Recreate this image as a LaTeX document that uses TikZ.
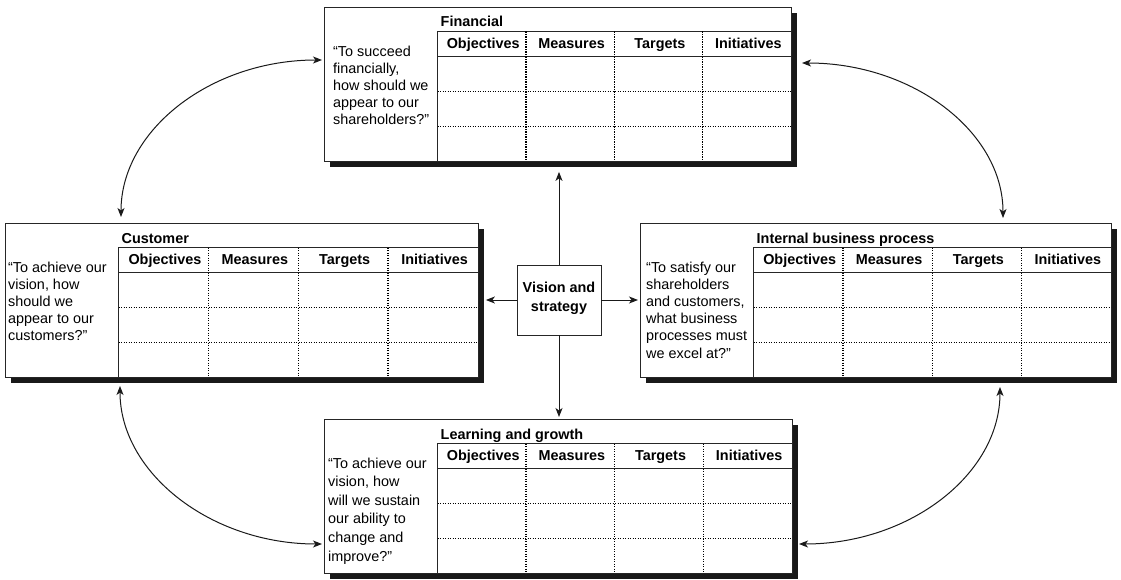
\documentclass[tikz,border=0pt]{standalone}
\usepackage{fontspec}
\setmainfont{Liberation Sans}
\usetikzlibrary{arrows.meta,shadows,calc}

\tikzset{
  bscbox/.style={draw=black!85, line width=0.9pt, fill=white, inner sep=0pt,
    drop shadow={opacity=1, fill=black!90, shadow xshift=6pt, shadow yshift=-6pt}},
  tabrule/.style={draw=black!85, line width=0.9pt},
  dotrule/.style={draw=black, line width=1.3pt, dash pattern=on 1.2pt off 1.3pt},
  colhead/.style={font=\fontsize{14.4}{17}\selectfont\bfseries, inner sep=0pt, anchor=base},
  ptitle/.style={font=\fontsize{14.4}{17}\selectfont\bfseries, inner sep=0pt, anchor=base west},
  qtext/.style={inner sep=0pt, anchor=north west, align=left},
  tipshape/.tip={Stealth[length=9pt,width=7pt,inset=2.5pt]},
  spoke/.style={draw=black!90, line width=1pt, -tipshape},
  twoway/.style={draw=black!90, line width=1pt, tipshape-tipshape},
}

% One perspective panel: #1 name, #2 left, #3 top, #4 width, #5 title,
% #6 indent of the question, #7 its line spacing, #8 the question
\newcommand\bscpanel[8]{%
  \pgfmathsetmacro\bscR{#2+#4}%
  \pgfmathsetmacro\bscB{#3+154}%
  \pgfmathsetmacro\bscTL{#2+113.5}%
  \pgfmathsetmacro\bscHT{#3+24.5}%
  \pgfmathsetmacro\bscHB{#3+49.5}%
  \pgfmathsetmacro\bscCW{(\bscR-\bscTL)/4}%
  \pgfmathsetmacro\bscRH{(\bscB-\bscHB)/3}%
  \node[bscbox, minimum width=#4, minimum height=154, anchor=north west] (#1) at (#2,#3) {};
  \draw[tabrule] (\bscTL,\bscB) -- (\bscTL,\bscHT) -- (\bscR,\bscHT);
  \draw[tabrule] (\bscTL,\bscHB) -- (\bscR,\bscHB);
  \foreach \k in {1,2,3} {
    \draw[dotrule] ({\bscTL+\k*\bscCW},\bscHT) -- ({\bscTL+\k*\bscCW},\bscB);
  }
  \foreach \k in {1,2} {
    \draw[dotrule] (\bscTL,{\bscHB+\k*\bscRH}) -- (\bscR,{\bscHB+\k*\bscRH});
  }
  \foreach \lab [count=\k] in {Objectives,Measures,Targets,Initiatives} {
    \node[colhead] (#1-c\k) at ({\bscTL+(\k-0.5)*\bscCW+1.5},{\bscHT+17.3}) {\lab};
  }
  \node[ptitle] (#1-t) at ({\bscTL+3},{\bscHT-4.5}) {#5};
  \node[qtext, font=\fontsize{14.4}{#7}\selectfont] (#1-q) at ({#2+#6},{#3+38.5}) {#8};
}

\begin{document}
\begin{tikzpicture}[x=1pt, y=-1pt]
  \fill[white] (0,0) rectangle (1121,580);
  \useasboundingbox (0,0) rectangle (1121,580);

  \bscpanel{fin}{324}{7}{467}{Financial}{9}{17}%
    {“To succeed\\financially,\\how should we\\appear to our\\shareholders?”}
  \bscpanel{cust}{5}{223}{473}{Customer}{3}{17}%
    {“To achieve our\\vision, how\\should we\\appear to our\\customers?”}
  \bscpanel{int}{640}{223}{471}{Internal business process}{6}{17.2}%
    {“To satisfy our\\shareholders\\and customers,\\what business\\processes must\\we excel at?”}
  \bscpanel{learn}{324}{419}{468}{Learning and growth}{4}{18.6}%
    {“To achieve our\\vision, how\\will we sustain\\our ability to\\change and\\improve?”}

  % centre box
  \node[draw=black!85, line width=0.9pt, fill=white, minimum width=84, minimum height=70,
        align=center, inner sep=0pt, text depth=6pt, font=\fontsize{14.4}{18.5}\selectfont\bfseries]
        (vis) at (559,300) {Vision and\\strategy};

  % straight links from the centre
  \draw[spoke, shorten >=10pt] (vis.north) -- (vis.north |- fin.south);
  \draw[spoke, shorten >=2pt]  (vis.south) -- (vis.south |- learn.north);
  \draw[spoke, shorten >=7pt]  (vis.west)  -- (vis.west -| cust.east);
  \draw[spoke, shorten >=2pt]  (vis.east)  -- (vis.east -| int.west);

  % ends of the curved two-way links
  \coordinate (finL) at (322,60);
  \coordinate (finR) at (802,63);
  \coordinate (custT) at (121,217);
  \coordinate (custB) at (120,386);
  \coordinate (intT) at (1003,218);
  \coordinate (intB) at (1000,387);
  \coordinate (learnL) at (322,544);
  \coordinate (learnR) at (799,544);

  \draw[twoway] (custT) .. controls ($(custT)+(0,-87)$) and ($(finL)+(-111,0)$) .. (finL);
  \draw[twoway] (finR) .. controls ($(finR)+(111,0)$) and ($(intT)+(0,-86)$) .. (intT);
  \draw[twoway] (custB) .. controls ($(custB)+(0,87)$) and ($(learnL)+(-111,0)$) .. (learnL);
  \draw[twoway] (intB) .. controls ($(intB)+(0,87)$) and ($(learnR)+(111,0)$) .. (learnR);
\end{tikzpicture}
\end{document}
